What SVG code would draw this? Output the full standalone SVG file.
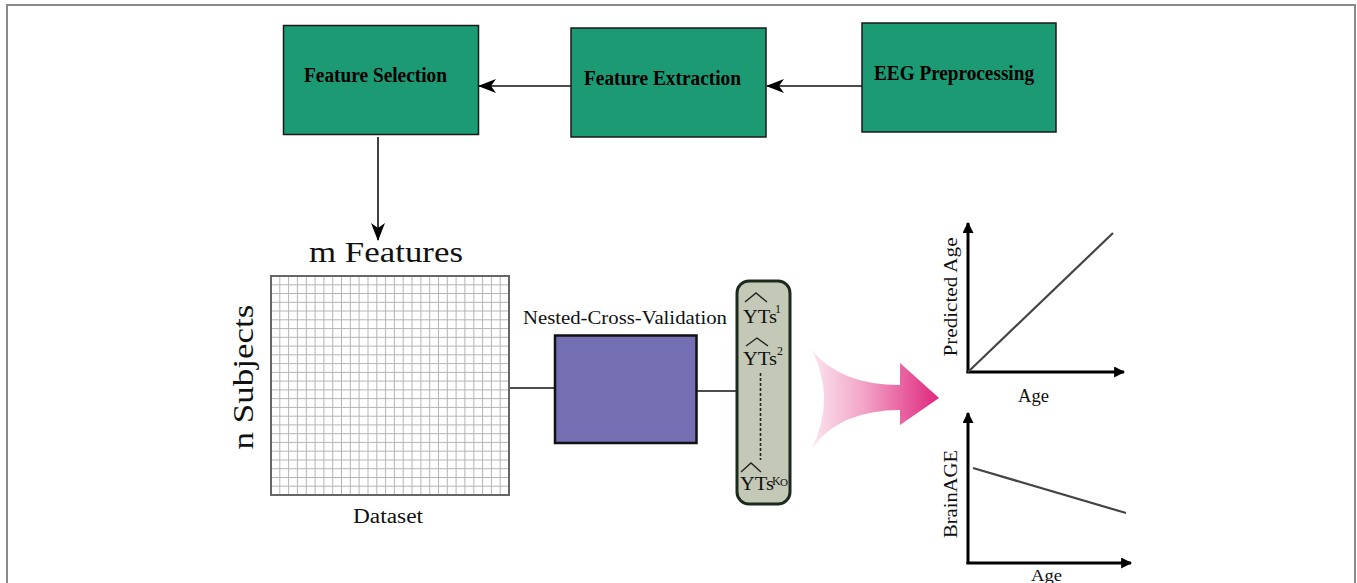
<svg xmlns="http://www.w3.org/2000/svg" width="1357" height="583" viewBox="0 0 1357 583">
<defs>
<style>
.frame{fill:none;stroke:#8a8a8a;stroke-width:2}
.green{fill:#1b9a74;stroke:#1a1a1a;stroke-width:1.5}
.blab{font-family:"Liberation Serif",serif;font-weight:bold;font-size:20px;fill:#000}
.serif{font-family:"Liberation Serif",serif;fill:#111}
.conn{stroke:#111;stroke-width:1.6;fill:none}
.axis{stroke:#000;stroke-width:3;fill:none}
.grid{stroke:#b5b5b5;stroke-width:1;fill:none}
.hat{stroke:#222;stroke-width:1.4;fill:none}
</style>
<marker id="ah" viewBox="0 0 18 14" refX="17" refY="7" markerWidth="18" markerHeight="14" markerUnits="userSpaceOnUse" orient="auto">
<path d="M0,0 L18,7 L0,14 L5,7 Z" fill="#000"/>
</marker>
<marker id="axh" viewBox="0 0 10 10" refX="9" refY="5" markerWidth="11" markerHeight="11" markerUnits="userSpaceOnUse" orient="auto">
<path d="M0,0 L10,5 L0,10 Z" fill="#000"/>
</marker>
<linearGradient id="pink" x1="812" y1="0" x2="938" y2="0" gradientUnits="userSpaceOnUse">
<stop offset="0" stop-color="#fbe4ef"/>
<stop offset="0.4" stop-color="#f2a6c8"/>
<stop offset="1" stop-color="#e0287e"/>
</linearGradient>
</defs>
<rect width="1357" height="583" fill="#ffffff"/>
<path class="frame" d="M7,583 L7,5 L1355,5 L1355,583"/>

<g id="connectors">
<line class="conn" x1="571" y1="86" x2="479" y2="86" marker-end="url(#ah)"/>
<line class="conn" x1="862" y1="86" x2="767" y2="86" marker-end="url(#ah)"/>
<line class="conn" x1="378" y1="137" x2="378" y2="240" marker-end="url(#ah)"/>
<line class="conn" x1="510" y1="388" x2="555" y2="388"/>
<line class="conn" x1="697" y1="391" x2="737" y2="391"/>
</g>

<g id="feature-selection">
<rect class="green" x="283.5" y="25.5" width="195" height="109"/>
<text class="blab" x="304" y="82" textLength="143" lengthAdjust="spacingAndGlyphs">Feature Selection</text>
</g>
<g id="feature-extraction">
<rect class="green" x="571" y="28" width="195" height="109"/>
<text class="blab" x="584" y="85" textLength="157" lengthAdjust="spacingAndGlyphs">Feature Extraction</text>
</g>
<g id="eeg-preprocessing">
<rect class="green" x="862" y="23" width="194" height="109"/>
<text class="blab" x="874" y="80" textLength="160" lengthAdjust="spacingAndGlyphs">EEG Preprocessing</text>
</g>

<g id="dataset">
<text class="serif" x="309" y="262" font-size="29" textLength="154" lengthAdjust="spacingAndGlyphs">m Features</text>
<text class="serif" font-size="29" transform="translate(253,377) rotate(-90)" text-anchor="middle" textLength="145" lengthAdjust="spacingAndGlyphs">n Subjects</text>
<path class="grid" d="M279.8,276V495M288.6,276V495M297.4,276V495M306.3,276V495M315.1,276V495M323.9,276V495M332.7,276V495M341.5,276V495M350.3,276V495M359.1,276V495M368,276V495M376.8,276V495M385.6,276V495M394.4,276V495M403.2,276V495M412,276V495M420.9,276V495M429.7,276V495M438.5,276V495M447.3,276V495M456.1,276V495M464.9,276V495M473.8,276V495M482.6,276V495M491.4,276V495M500.2,276V495M271,284.8H509M271,293.5H509M271,302.3H509M271,311H509M271,319.8H509M271,328.6H509M271,337.3H509M271,346.1H509M271,354.8H509M271,363.6H509M271,372.4H509M271,381.1H509M271,389.9H509M271,398.6H509M271,407.4H509M271,416.2H509M271,424.9H509M271,433.7H509M271,442.4H509M271,451.2H509M271,460H509M271,468.7H509M271,477.5H509M271,486.2H509"/>
<rect x="271" y="276" width="238" height="219" fill="none" stroke="#666" stroke-width="2"/>
<text class="serif" x="353" y="523" font-size="20" textLength="70" lengthAdjust="spacingAndGlyphs">Dataset</text>
</g>

<g id="nested-cv">
<text class="serif" x="523" y="324" font-size="19" textLength="204" lengthAdjust="spacingAndGlyphs">Nested-Cross-Validation</text>
<rect x="555" y="335.5" width="141.5" height="107.5" fill="#746fb3" stroke="#111" stroke-width="2.5"/>
</g>

<g id="yts-list">
<rect x="737" y="281" width="53" height="223" rx="12" ry="12" fill="#c4c8b6" stroke="#1c2a1c" stroke-width="3"/>
<path class="hat" d="M745,302 L756,293 L767,302"/>
<text class="serif" x="743" y="323" font-size="18" textLength="34" lengthAdjust="spacingAndGlyphs">YTs</text>
<text class="serif" x="775" y="313" font-size="12">1</text>
<path class="hat" d="M746,346 L757,338 L768,346"/>
<text class="serif" x="743" y="365" font-size="18" textLength="34" lengthAdjust="spacingAndGlyphs">YTs</text>
<text class="serif" x="777" y="355" font-size="12">2</text>
<line x1="760.5" y1="373" x2="760.5" y2="460" stroke="#222" stroke-width="1.6" stroke-dasharray="3,2"/>
<path class="hat" d="M741,472 L751,463 L761,472"/>
<text class="serif" x="740" y="490" font-size="18" textLength="34" lengthAdjust="spacingAndGlyphs">YTs</text>
<text class="serif" x="772" y="485" font-size="12">K</text>
<text class="serif" x="780" y="486" font-size="11">O</text>
</g>

<g id="pink-arrow">
<path d="M812,350 Q840,385 900,385 L900,363 L939,398 L900,425 L900,410 Q840,410 812,448 Q836,399 812,350 Z" fill="url(#pink)"/>
</g>

<g id="chart-predicted">
<line x1="968" y1="373" x2="968" y2="223" class="axis" marker-end="url(#axh)"/>
<line x1="966.5" y1="372" x2="1124" y2="372" class="axis" marker-end="url(#axh)"/>
<line x1="968" y1="372" x2="1113" y2="233" stroke="#444" stroke-width="2.2"/>
<text class="serif" font-size="19" transform="translate(957,297) rotate(-90)" text-anchor="middle" textLength="119" lengthAdjust="spacingAndGlyphs">Predicted Age</text>
<text class="serif" x="1018" y="402" font-size="18" textLength="31" lengthAdjust="spacingAndGlyphs">Age</text>
</g>

<g id="chart-brainage">
<line x1="968" y1="564" x2="968" y2="413" class="axis" marker-end="url(#axh)"/>
<line x1="966.5" y1="563" x2="1131" y2="563" class="axis" marker-end="url(#axh)"/>
<line x1="973" y1="468" x2="1126" y2="513" stroke="#444" stroke-width="2.2"/>
<text class="serif" font-size="19" transform="translate(957,494) rotate(-90)" text-anchor="middle" textLength="88" lengthAdjust="spacingAndGlyphs">BrainAGE</text>
<text class="serif" x="1031" y="581" font-size="17" textLength="31" lengthAdjust="spacingAndGlyphs">Age</text>
</g>
</svg>
